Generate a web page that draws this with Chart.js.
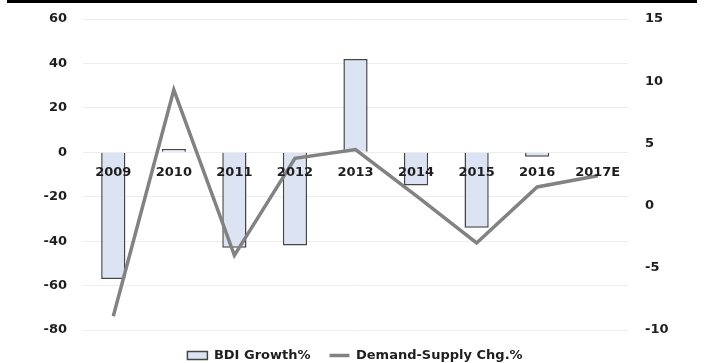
<!DOCTYPE html>
<html>
<head>
<meta charset="utf-8">
<script src="https://cdn.jsdelivr.net/npm/chart.js@4"></script>
<style>
  body { margin: 0; background: #fff; }
  .wrap { position: relative; width: 710px; height: 363px; }
  .rule { position: absolute; left: 7px; top: 0; width: 690px; height: 3px; background: #000; }
</style>
</head>
<body>
<div class="wrap">
  <div class="rule"></div>
  <canvas id="bdiChart" width="710" height="363"></canvas>
</div>
<script>
// years on the x axis
const years = ["2009", "2010", "2011", "2012", "2013", "2014", "2015", "2016", "2017E"];

// BDI growth %, left axis
const bdiGrowth = [-57, 1.5, -43, -42, 42, -15, -34, -2, null];

// demand-supply change %, right axis
const demandSupply = [-8.9, 9.3, -4.0, 3.8, 4.5, 0.8, -3.0, 1.5, 2.4];

const leftTicks = { min: -80, max: 60, step: 20 };
const rightTicks = { min: -10, max: 15, step: 5 };

const tickFont = { family: "DejaVu Sans", size: 13, weight: "bold" };
const textColor = "#1e1e1e";

// fixed axis width, and no extra room reserved above/below for the end labels
function fitAxis(width) {
  return (scale) => {
    scale.width = width;
    scale.paddingTop = 0;
    scale.paddingBottom = 0;
  };
}

const data = {
  labels: years,
  datasets: [
    {
      type: "bar",
      label: "BDI Growth%",
      data: bdiGrowth,
      yAxisID: "y",
      backgroundColor: "#dce3f3",
      borderColor: "#454545",
      borderWidth: 1.5,
      categoryPercentage: 0.8,
      barPercentage: 0.5,
      order: 1,
    },
    {
      type: "line",
      label: "Demand-Supply Chg.%",
      data: demandSupply,
      yAxisID: "y1",
      borderColor: "#828282",
      backgroundColor: "#828282",
      borderWidth: 3.5,
      pointRadius: 0,
      tension: 0,
      order: 0,
    },
  ],
};

const config = {
  data: data,
  options: {
    responsive: false,
    animation: false,
    devicePixelRatio: 1,
    layout: { padding: { top: 19, left: 0, right: 0, bottom: -9 } },
    plugins: {
      tooltip: { enabled: false },
      legend: {
        position: "bottom",
        reverse: true,
        labels: {
          font: tickFont,
          color: textColor,
          usePointStyle: true,
          pointStyleWidth: 20,
          boxHeight: 8,
          padding: 19,
          generateLabels: (chart) => {
            const items = Chart.defaults.plugins.legend.labels.generateLabels(chart);
            items.forEach((item) => {
              item.pointStyle = item.datasetIndex === 0 ? "rect" : "line";
              if (item.datasetIndex === 0) item.lineWidth = 1.5;
            });
            return items;
          },
        },
      },
    },
    scales: {
      x: {
        type: "category",
        position: { y: 0 },
        offset: true,
        grid: { display: false, drawTicks: false },
        border: { display: false },
        // year labels sit on top of the bars
        ticks: { font: tickFont, color: textColor, padding: 13, maxRotation: 0, z: 1 },
      },
      y: {
        position: "left",
        min: leftTicks.min,
        max: leftTicks.max,
        ticks: {
          stepSize: leftTicks.step,
          font: tickFont,
          color: textColor,
          padding: 16,
          callback: (v) => String(v),
        },
        grid: { color: "#ededed", lineWidth: 1, drawTicks: false },
        border: { display: false },
        afterFit: fitAxis(83),
      },
      y1: {
        position: "right",
        min: rightTicks.min,
        max: rightTicks.max,
        ticks: {
          stepSize: rightTicks.step,
          font: tickFont,
          color: textColor,
          padding: 17,
          callback: (v) => String(v),
        },
        grid: { display: false, drawTicks: false },
        border: { display: false },
        afterFit: fitAxis(82),
      },
    },
  },
};

const ctx = document.getElementById("bdiChart").getContext("2d");
const bdiChart = new Chart(ctx, config);
</script>
</body>
</html>
